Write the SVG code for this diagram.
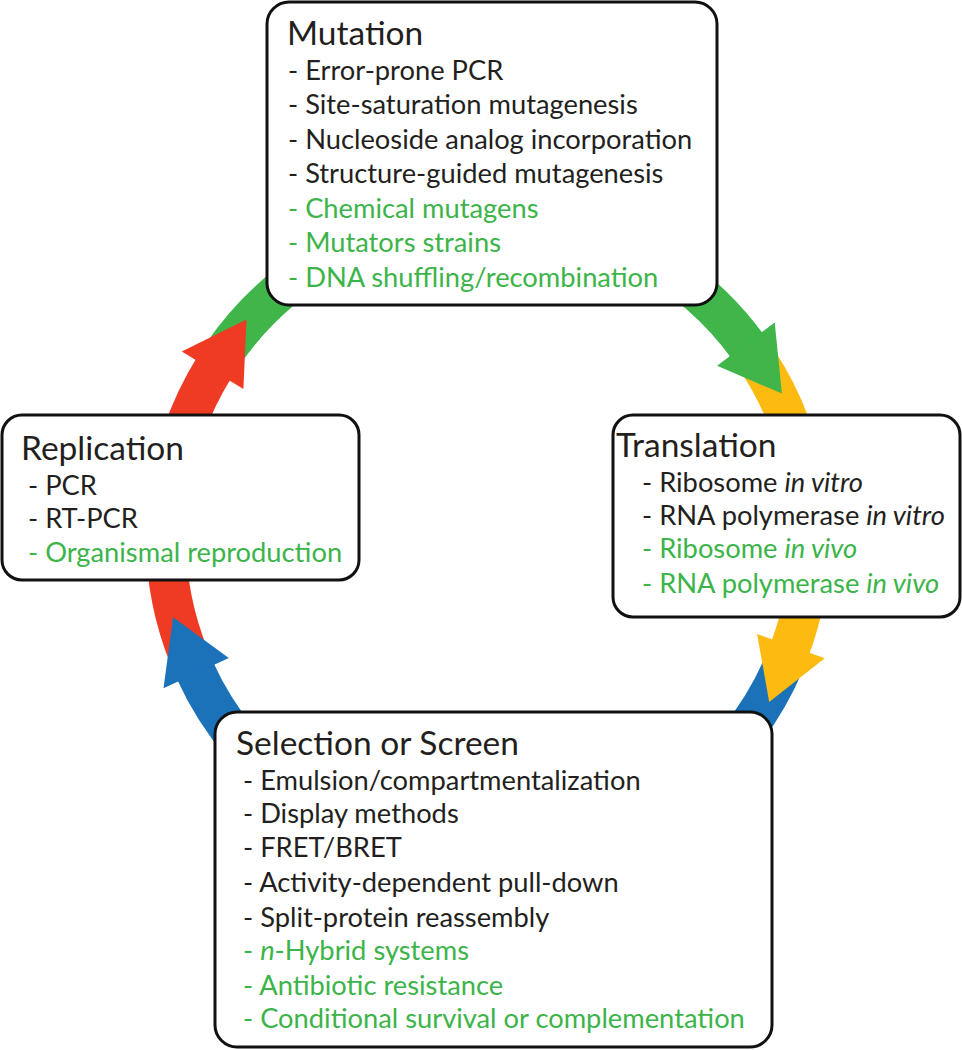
<svg xmlns="http://www.w3.org/2000/svg" width="962" height="1050" viewBox="0 0 962 1050">
<style>
.box{fill:#fff;stroke:#111;stroke-width:3}
.band{fill:none;stroke-width:40;stroke-linecap:butt}
.t{font-family:Lato,"Liberation Sans",sans-serif;fill:#231f20}
.title{font-size:33.5px}
.item{font-size:27.3px}
.g{fill:#3cb44a}
.i{font-style:italic}
</style>
<g id="connectors">
  <path class="band" stroke="#ef3b24" d="M189.4 657.6 A322 322 0 0 1 214.9 366.4"/>
  <path class="band" stroke="#3fb54a" d="M222.6 354.6 A322 322 0 0 1 748.5 347.7"/>
  <path class="band" stroke="#fdbb12" d="M756.5 359.3 A322 322 0 0 1 789.6 649.8"/>
  <path class="band" stroke="#1b72b9" d="M784.4 662.8 A322 322 0 0 1 194.5 669.5"/>
  <polygon fill="#ef3b24" points="246.5,319.5 181.8,351.6 243.4,388.9"/>
  <polygon fill="#3fb54a" points="781.9,393.6 717.1,365.7 774.7,322.6"/>
  <polygon fill="#fdbb12" points="769.2,702 757.1,633.9 824.8,658.3"/>
  <polygon fill="#1b72b9" points="173.1,617.3 163.5,688.3 228.8,657.9"/>
</g>
<g id="mutation">
  <rect class="box" x="267" y="2" width="450" height="303" rx="22"/>
  <text class="t title" x="287" y="45">Mutation</text>
  <text class="t item" x="288" y="80">- Error-prone PCR</text>
  <text class="t item" x="288" y="114">- Site-saturation mutagenesis</text>
  <text class="t item" x="288" y="149">- Nucleoside analog incorporation</text>
  <text class="t item" x="288" y="183">- Structure-guided mutagenesis</text>
  <text class="t item g" x="288" y="218">- Chemical mutagens</text>
  <text class="t item g" x="288" y="252">- Mutators strains</text>
  <text class="t item g" x="288" y="287">- DNA shuffling/recombination</text>
</g>
<g id="replication">
  <rect class="box" x="2" y="415" width="357" height="165" rx="20"/>
  <text class="t title" x="21" y="460">Replication</text>
  <text class="t item" x="28" y="495">- PCR</text>
  <text class="t item" x="28" y="528">- RT-PCR</text>
  <text class="t item g" x="28" y="562">- Organismal reproduction</text>
</g>
<g id="translation">
  <rect class="box" x="613" y="415" width="347" height="202" rx="20"/>
  <text class="t title" x="616" y="457">Translation</text>
  <text class="t item" x="642" y="492">- Ribosome <tspan class="i">in vitro</tspan></text>
  <text class="t item" x="642" y="525">- RNA polymerase <tspan class="i">in vitro</tspan></text>
  <text class="t item g" x="642" y="558">- Ribosome <tspan class="i">in vivo</tspan></text>
  <text class="t item g" x="642" y="593">- RNA polymerase <tspan class="i">in vivo</tspan></text>
</g>
<g id="selection">
  <rect class="box" x="215" y="712" width="557" height="335" rx="22"/>
  <text class="t title" x="236" y="755">Selection or Screen</text>
  <text class="t item" x="243" y="790">- Emulsion/compartmentalization</text>
  <text class="t item" x="243" y="823">- Display methods</text>
  <text class="t item" x="243" y="857">- FRET/BRET</text>
  <text class="t item" x="243" y="892">- Activity-dependent pull-down</text>
  <text class="t item" x="243" y="927">- Split-protein reassembly</text>
  <text class="t item g" x="243" y="960">- <tspan class="i">n</tspan>-Hybrid systems</text>
  <text class="t item g" x="243" y="995">- Antibiotic resistance</text>
  <text class="t item g" x="243" y="1028">- Conditional survival or complementation</text>
</g>
</svg>
